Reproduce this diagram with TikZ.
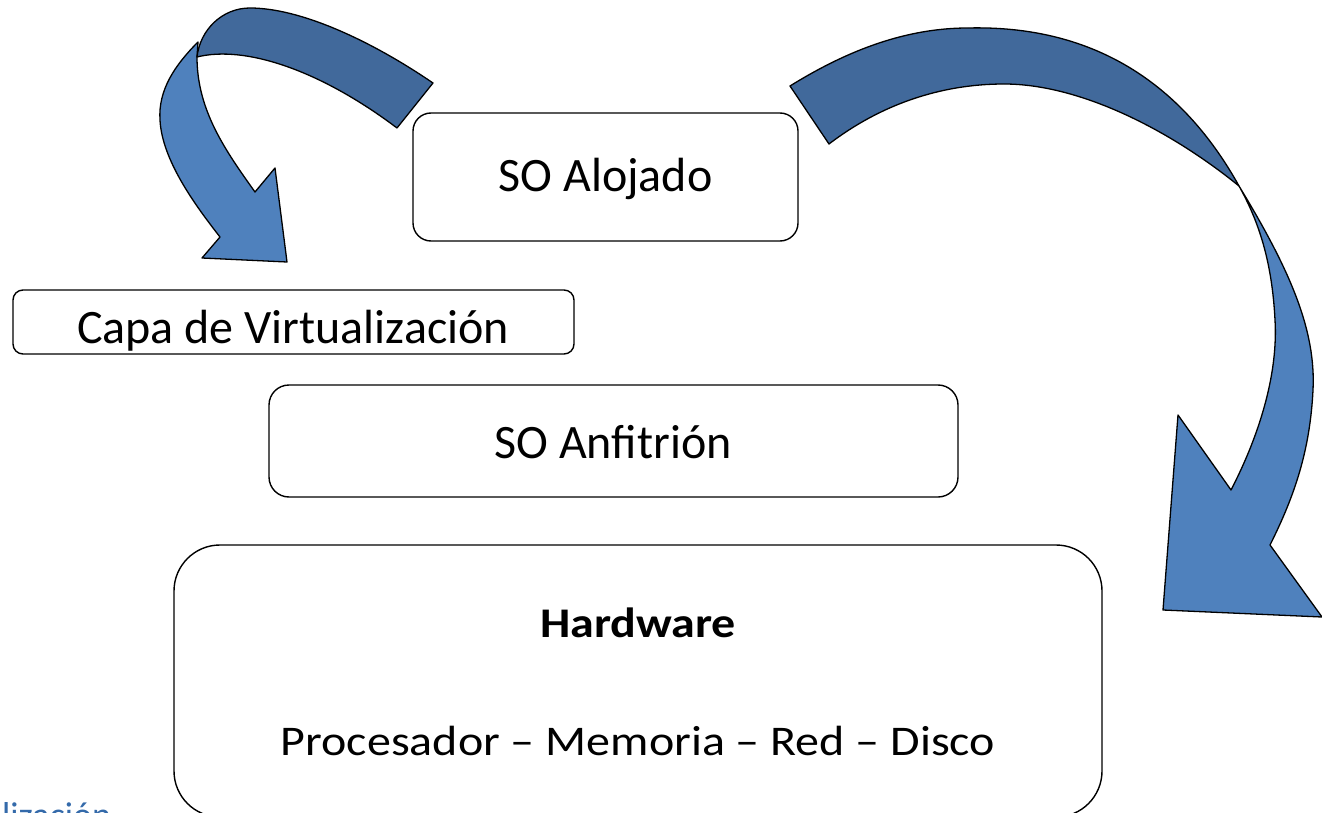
\documentclass[tikz,border=0pt]{standalone}
\usepackage{fontspec}
\setmainfont{Carlito}
\definecolor{arrowdark}{RGB}{65,105,155}
\definecolor{arrowlight}{RGB}{79,129,189}
\definecolor{captionblue}{RGB}{52,106,170}
\begin{document}
\begin{tikzpicture}[x=1pt,y=-1pt,
  layer/.style={draw=black,line width=1.4pt,fill=white,rectangle,inner sep=0pt},
  lbl/.style={anchor=base,inner sep=0pt,font=\fontsize{48}{58}\selectfont},
  band/.style={draw=black,line width=1.3pt,line join=round}]
\useasboundingbox (0,0) rectangle (1322,813);

% left curved arrow: light front of the band with its head, then the darker back on top
\filldraw[band,fill=arrowlight]
  (198,42) .. controls (175,65) and (158,90) .. (160,120)
  .. controls (162,160) and (195,205) .. (220,237)
  -- (202,258) -- (287,262) -- (275,168) -- (255,192)
  .. controls (225,150) and (197,110) .. (197,57) -- cycle;
\filldraw[band,fill=arrowdark]
  (433,83) .. controls (370,40) and (300,8) .. (250,8)
  .. controls (222,8) and (200,30) .. (197,57)
  .. controls (245,45) and (320,70) .. (397,128) -- cycle;

% right curved arrow
\filldraw[band,fill=arrowlight]
  (1239,186) .. controls (1290,270) and (1316,330) .. (1313,390)
  .. controls (1310,450) and (1295,495) .. (1270,545)
  -- (1322,617) -- (1163,610) -- (1178,415) -- (1231,490)
  .. controls (1262,430) and (1278,370) .. (1275,320)
  .. controls (1272,260) and (1258,220) .. (1239,186) -- cycle;
\filldraw[band,fill=arrowdark]
  (790,86) .. controls (840,55) and (900,28) .. (968,28)
  .. controls (1090,25) and (1180,80) .. (1239,186)
  .. controls (1170,130) and (1080,84) .. (1004,84)
  .. controls (940,84) and (880,105) .. (829,144) -- cycle;

% layers
\node[layer,rounded corners=18pt,minimum width=385pt,minimum height=128pt] (alojado) at (605.5,177) {};
\node[layer,rounded corners=10pt,minimum width=561pt,minimum height=64pt] (capa) at (293.5,322) {};
\node[layer,rounded corners=20pt,minimum width=689pt,minimum height=112pt] (anfitrion) at (613.5,441) {};
\node[layer,rounded corners=46pt,minimum width=928pt,minimum height=272pt] (hardware) at (638,681) {};

% labels
\node[lbl] (talojado) at (605.5,192) {SO Alojado};
\node[lbl] (tcapa) at (293,343) {Capa de Virtualización};
\node[lbl] (tanfitrion) at (613,458) {SO Anfitrión};
\node[lbl,font=\fontsize{48}{58}\selectfont\bfseries] (thw) at (638,637) {\scalebox{1}[0.88]{Hardware}};
\node[lbl] (tparts) at (638,755) {\scalebox{1}[0.88]{Procesador – Memoria – Red – Disco}};

% caption text running off the lower edge
\node[anchor=base west,inner sep=0pt,text=captionblue,font=\fontsize{36}{43}\selectfont] (caption) at (2,827) {lización};
\end{tikzpicture}
\end{document}
